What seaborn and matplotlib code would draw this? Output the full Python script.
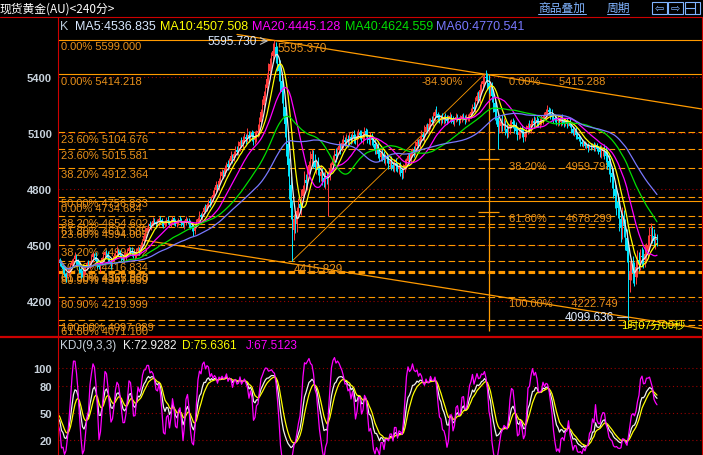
import numpy as np
import pandas as pd
import matplotlib
matplotlib.use("Agg")
import matplotlib.pyplot as plt
from matplotlib.lines import Line2D
from matplotlib.patches import Rectangle
import seaborn as sns

# ============================================================
# DATA - 240 minute gold bars
# ============================================================
CLOSE = [
    # sideways start
    4420, 4405, 4390, 4370, 4345, 4330, 4350, 4372, 4395, 4410,
    4425, 4440, 4418, 4395, 4370, 4352, 4340, 4360, 4385, 4402,
    4390, 4410, 4435, 4450, 4438, 4415, 4395, 4380, 4405, 4428,
    4446, 4462, 4450, 4430, 4412, 4400, 4418, 4440, 4455, 4470,
    4460, 4445, 4430, 4420, 4438, 4455, 4470, 4482, 4470, 4455,
    4440, 4452, 4468, 4480, 4470,
    # breakout + plateau
    4495, 4520, 4550, 4575, 4590, 4610, 4600,
    4615, 4630, 4622, 4610, 4625, 4640, 4632, 4618, 4605, 4620,
    4635, 4628, 4615, 4630, 4642, 4625, 4612, 4620, 4636, 4630,
    4618, 4605, 4622, 4638, 4630, 4615, 4600, 4590,
    4575, 4600, 4625,
    4640, 4660, 4650, 4675, 4700, 4690, 4715, 4735, 4725, 4750,
    4770, 4795, 4820, 4810, 4845, 4870, 4890,
    4880, 4910, 4935, 4920, 4950, 4975, 4965, 4990, 5010, 5000,
    5030, 5050, 5040, 5065, 5080,
    5070, 5090, 5075, 5100, 5085, 5060, 5080, 5100, 5110,
    # blow-off top and crash
    5160, 5210, 5250, 5300, 5340, 5390, 5430, 5470, 5510, 5540, 5560,
    5520, 5470, 5430, 5380, 5320,
    5240, 5150, 5040, 4930, 4820, 4700, 4580,
    4640, 4610, 4680, 4720, 4700, 4760, 4800, 4850, 4830, 4890,
    4930, 4960, 4985,
    4950, 4920, 4940, 4900, 4870, 4890, 4860, 4840, 4870, 4855, 4880, 4910,
    4930, 4960, 4990, 4975, 5010, 5030, 5020, 5045, 5060, 5050,
    5070, 5055, 5080, 5065, 5090, 5075, 5060, 5085, 5100, 5090,
    5070, 5085, 5110, 5095, 5075, 5060, 5080, 5065,
    5040, 5010, 5025, 4990, 4970, 4995, 4980, 4955, 4975, 4960,
    4935, 4950, 4930, 4915, 4940, 4925, 4905, 4920, 4900, 4885, 4910, 4930,
    4950, 4975, 4960, 4990, 5010, 5000, 5030, 5050, 5040, 5070,
    5090, 5080, 5110, 5130, 5120, 5150, 5170, 5160, 5190, 5215, 5200, 5180, 5170,
    5180, 5170, 5185, 5175, 5165, 5180, 5190, 5175, 5160, 5170,
    5185, 5178, 5168, 5175, 5190, 5182, 5170, 5178, 5188, 5195,
    # second top
    5215, 5240, 5230, 5270, 5300, 5290, 5330, 5360, 5380, 5400, 5395,
    5370, 5340, 5350, 5300, 5260, 5210, 5180, 5130, 5140,
    5160, 5140, 5150, 5120, 5100, 5125, 5145, 5160, 5150, 5130,
    5110, 5090, 5105, 5125, 5100, 5080, 5095, 5120, 5140, 5130,
    5150, 5165, 5155, 5170, 5160, 5150, 5165, 5175, 5185, 5190,
    5210, 5225, 5215, 5200, 5190, 5180, 5175,
    5165, 5170, 5160, 5175, 5165, 5155, 5160, 5150,
    5160, 5140, 5120, 5100, 5110, 5090, 5080, 5070,
    5050, 5040, 5045, 5030, 5035, 5020, 5030, 5025, 5035, 5020, 5035, 5015,
    5010, 5000, 5005, 5005,
    # final crash and rebound
    5000, 4975, 4950, 4920, 4885, 4862, 4800, 4760, 4730, 4700,
    4640, 4590, 4640, 4600, 4540, 4470,
    4310, 4360, 4395, 4350, 4330, 4380, 4420, 4405, 4440, 4435,
    4420, 4450, 4470, 4501, 4550,
    4555, 4548, 4522, 4530, 4529,
]
OPEN_FIRST = 4430

UP_WICK = [
    12, 8, 15, 6, 20, 10, 5, 18, 9, 14, 7, 22, 11, 6, 16, 9, 13, 25, 8, 10,
    15, 6, 19, 10, 8, 24, 12, 7, 14, 9, 18, 5, 11, 20, 8, 13, 6, 17, 10, 22,
    9, 14, 7, 12, 26, 8, 15, 10, 6, 19, 11, 8, 16, 13, 7, 21, 9, 12, 18, 6,
    10, 17, 8, 20, 12, 6, 14, 9, 18, 11, 7, 15, 13, 22, 8, 10, 16, 6, 12, 14,
    9, 18, 14, 7, 11, 16, 8, 13, 20, 10, 6, 16, 12, 9, 20, 14, 7, 11, 17, 8,
    13, 19, 10, 26, 15, 24, 9, 12, 28, 17, 14, 21, 11, 18, 16, 30, 10, 13, 19, 22,
    25, 11, 27, 19, 18, 13, 35, 20, 12, 16, 25, 30, 14, 40, 28, 21, 32, 25, 22, 30,
    45, 30, 25, 40, 35, 28, 45, 32, 60, 48, 55, 40, 62, 48, 35, 50, 40, 28, 36, 22,
    30, 25, 38, 22, 45, 28, 35, 20, 42, 30, 26, 38, 22, 34, 28, 40, 24, 30, 36, 20,
    18, 28, 15, 24, 20, 32, 14, 26, 18, 22, 30, 16, 24, 20, 28, 15, 22, 26, 18, 24,
    20, 14, 26, 18, 22, 16, 28, 12, 24, 20, 18, 26, 14, 22, 30, 16, 20, 24, 12, 18,
    22, 16, 28, 14, 20, 26, 12, 18, 24, 16, 22, 30, 14, 20, 18, 26, 12, 22, 28, 16,
    20, 14, 26, 18, 35, 16, 22, 28, 12, 20, 24, 16, 30, 14, 22, 18, 26, 12, 20, 24,
    14, 20, 10, 18, 12, 22, 16, 10, 20, 14, 18, 12, 24, 16, 10, 20, 14, 26, 22, 18,
    24, 30, 20, 28, 18, 35, 26, 40, 30, 22, 38, 28, 45, 25, 32, 20, 36, 28, 22, 30,
    18, 26, 14, 22, 20, 28, 16, 24, 12, 20, 26, 18, 22, 14, 28, 20, 16, 24, 18, 22,
    20, 16, 24, 12, 22, 18, 26, 14, 20, 28, 16, 22, 18, 24, 12, 20, 26, 16, 22, 18,
    12, 18, 10, 16, 14, 20, 8, 15, 12, 18, 10, 14, 16, 9, 13, 18, 11, 15, 10, 14,
    18, 24, 30, 22, 35, 28, 40, 30, 45, 38, 50, 42, 60, 48, 55, 45, 62, 50, 40, 48,
    42, 55, 38, 48, 60, 40, 52, 45, 38, 50, 44, 58, 40, 52, 46, 62, 48, 40, 35, 30,
]
DN_WICK = [
    10, 18, 7, 22, 12, 28, 9, 14, 20, 8, 16, 11, 25, 9, 18, 30, 12, 8, 15, 20,
    9, 16, 12, 24, 7, 14, 20, 10, 26, 13, 8, 18, 15, 22, 10, 28, 12, 17, 9, 14,
    20, 11, 16, 8, 14, 22, 10, 18, 25, 12, 9, 15, 20, 11, 24, 13, 8, 19, 14, 10,
    16, 9, 20, 12, 8, 18, 14, 22, 10, 16, 12, 8, 18, 14, 10, 20, 12, 16, 9, 14,
    12, 8, 16, 10, 20, 14, 9, 18, 12, 16, 45, 14, 10, 18, 12, 8, 16, 12, 20, 10,
    14, 20, 12, 18, 10, 16, 22, 14, 12, 18, 15, 10, 20, 16, 12, 18, 24, 14, 20, 16,
    20, 26, 15, 22, 18, 30, 16, 24, 20, 28, 22, 18, 26, 20, 24, 30, 22, 18, 26, 35,
    30, 42, 25, 35, 28, 45, 38, 50, 55, 60, 48, 70, 65, 58, 75, 60, 80, 55, 48, 40,
    35, 28, 40, 30, 45, 25, 38, 32, 42, 28, 36, 30, 40, 26, 34, 28, 38, 30, 42, 26,
    22, 30, 18, 26, 20, 28, 16, 24, 30, 18, 26, 20, 22, 28, 16, 24, 20, 26, 18, 30,
    18, 24, 16, 28, 20, 14, 26, 18, 22, 30, 16, 24, 20, 26, 18, 22, 28, 16, 24, 20,
    26, 20, 30, 18, 24, 28, 16, 22, 30, 20, 26, 18, 24, 22, 28, 16, 20, 26, 18, 24,
    18, 24, 14, 20, 26, 16, 22, 18, 28, 14, 20, 24, 16, 22, 18, 26, 14, 20, 24, 16,
    12, 18, 22, 14, 20, 10, 16, 24, 12, 18, 14, 20, 10, 16, 22, 12, 18, 14, 20, 16,
    22, 28, 18, 30, 24, 20, 35, 28, 40, 32, 45, 38, 30, 42, 28, 36, 30, 24, 32, 26,
    20, 28, 16, 24, 30, 18, 26, 22, 32, 20, 28, 24, 18, 26, 22, 30, 20, 24, 18, 26,
    18, 24, 20, 28, 16, 22, 26, 18, 24, 20, 28, 16, 22, 26, 18, 24, 20, 22, 18, 24,
    14, 10, 18, 12, 16, 20, 10, 14, 18, 12, 16, 10, 14, 20, 12, 16, 10, 18, 14, 12,
    20, 28, 35, 30, 40, 32, 45, 38, 50, 55, 48, 60, 70, 58, 65, 72, 60, 55, 68, 62,
    50, 62, 45, 55, 48, 40, 52, 44, 38, 50, 42, 36, 48, 40, 34, 46, 38, 32, 42, 36,
]
# bars whose extreme is labelled / clearly visible
PEAK_HIGHS = {144: 5595.730, 284: 5415.288}
DEEP_LOWS = {90: 4550, 156: 4415.829, 180: 4655, 229: 4855, 293: 5015, 380: 4099.636}

MA_PERIODS = [5, 10, 20, 40, 60]
MA_COLORS = ["#e6e6e6", "#ffff00", "#ff00ff", "#00e000", "#7878ff"]
MA_LAST = ["4536.835", "4507.508", "4445.128", "4624.559", "4770.541"]
KDJ_LAST = ["72.9282", "75.6361", "67.5123"]

# left fibonacci set (drawn full width)
FIB_PCT = ["0.00%", "0.00%", "23.60%", "23.60%", "38.20%", "50.00%", "0.00%",
           "38.20%", "61.80%", "23.60%", "38.20%", "50.00%", "61.80%", "61.80%",
           "80.90%", "80.90%", "100.00%", "61.80%"]
FIB_PRICE = [5599.000, 5414.218, 5104.676, 5015.581, 4912.364, 4756.833, 4734.684,
             4654.602, 4611.589, 4594.005, 4499.092, 4416.834, 4362.033, 4355.850,
             4347.659, 4219.999, 4097.089, 4071.100]
FIB_SOLID = [True, True, False, False, False, False, True,
             False, False, False, False, False, False, False,
             False, False, False, False]

# right fibonacci set (retracement 5415.288 -> 4222.749)
FIBR_PCT = ["0.00%", "38.20%", "61.80%", "100.00%"]
FIBR_PRICE = [5415.288, 4959.798, 4678.299, 4222.749]

# drawing-tool lines, (bar index, price)
TREND_HIGH_X = [144, 284]
TREND_HIGH_Y = [5595.730, 5415.288]
TREND_LOW_X = [56, 430]
TREND_LOW_Y = [4527, 4050]
FAN_X = [156, 284]
FAN_Y = [4415.829, 5415.288]
VLINE_X = 287
VLINE_Y = [4040, 5415.288]

PRICE_TICKS = [4200, 4500, 4800, 5100, 5400]
KDJ_TICKS = [20, 50, 80, 100]

# ============================================================
# STYLE
# ============================================================
sns.set_theme(style="dark", rc={"axes.facecolor": "black",
                                "figure.facecolor": "black",
                                "savefig.facecolor": "black"})
plt.rcParams["font.family"] = ["Liberation Sans", "DejaVu Sans", "Noto Sans CJK SC"]
CJK = ["Noto Sans CJK SC", "DejaVu Sans"]

ORANGE = "#ff9a00"
ORANGE_TXT = "#e8901a"
RED = "#cc0000"
GRID_RED = "#9a0000"
TICK_TXT = "#c8d2dc"
UP_COL = "#ff3b3b"
DN_COL = "#00e6ff"

W, H = 703, 456

# ============================================================
# DERIVED SERIES
# ============================================================
close = np.array(CLOSE, float)
n = len(close)
idx = np.arange(n)
open_ = np.r_[OPEN_FIRST, close[:-1]]
high = np.maximum(open_, close) + np.array(UP_WICK[:n], float)
low = np.minimum(open_, close) - np.array(DN_WICK[:n], float)
for k, v in PEAK_HIGHS.items():
    high[k] = v
for k, v in DEEP_LOWS.items():
    low[k] = v

s_close = pd.Series(close)
mas = [s_close.rolling(p, min_periods=1).mean() for p in MA_PERIODS]

llv = pd.Series(low).rolling(9, min_periods=1).min()
hhv = pd.Series(high).rolling(9, min_periods=1).max()
rsv = ((s_close - llv) / (hhv - llv).replace(0, np.nan) * 100).fillna(50).values
K = np.zeros(n)
D = np.zeros(n)
k_prev, d_prev = 50.0, 50.0
for t in range(n):
    k_prev = (2 * k_prev + rsv[t]) / 3
    d_prev = (2 * d_prev + k_prev) / 3
    K[t], D[t] = k_prev, d_prev
J = 3 * K - 2 * D

# ============================================================
# FIGURE
# ============================================================
fig = plt.figure(figsize=(W / 100, H / 100), dpi=100)
ax = fig.add_axes([58 / W, 119 / H, 644 / W, 319 / H])
axk = fig.add_axes([58 / W, 0, 644 / W, 118 / H])

XLIM = (-0.33, 429)
for a in (ax, axk):
    a.set_facecolor("black")
    a.set_xlim(*XLIM)
    a.set_xticks([])
    for sp in a.spines.values():
        sp.set_visible(False)
    a.grid(False)

ax.set_ylim(4012.5, 5721.4)
axk.set_ylim(3.33, 134.4)

# grid (dotted red)
for p in PRICE_TICKS:
    ax.axhline(p, color=GRID_RED, lw=0.8, ls=(0, (1, 2.5)), zorder=0.5)
for p in KDJ_TICKS:
    axk.axhline(p, color=GRID_RED, lw=0.8, ls=(0, (1, 2.5)), zorder=0.5)

# fibonacci levels (left)
for pct, price, solid in zip(FIB_PCT, FIB_PRICE, FIB_SOLID):
    ax.axhline(price, color=ORANGE, lw=0.8,
               ls="-" if solid else (0, (6, 3)), zorder=1)
    ax.annotate(f"{pct} {price:.3f}", xy=(0, price),
                xycoords=("axes fraction", "data"), xytext=(2.2, -1),
                textcoords="offset points", ha="left", va="top",
                fontsize=8, color=ORANGE_TXT, zorder=1.5)

# fibonacci (right) labels and short marks
for pct, price in zip(FIBR_PCT, FIBR_PRICE):
    ax.annotate(f"{pct}      {price:.3f}", xy=(300.3, price), xytext=(0, -1),
                textcoords="offset points", ha="left", va="top",
                fontsize=8, color=ORANGE_TXT, zorder=1.5)
ax.annotate("-84.90%", xy=(242.3, FIBR_PRICE[0]), xytext=(0, -1),
            textcoords="offset points", ha="left", va="top",
            fontsize=8, color=ORANGE_TXT, zorder=1.5)
ax.hlines(FIBR_PRICE[1:3], 280, 294, colors=ORANGE, lw=0.9, zorder=1)

# trend lines
slope = (TREND_HIGH_Y[1] - TREND_HIGH_Y[0]) / (TREND_HIGH_X[1] - TREND_HIGH_X[0])
tx = np.array([119, 430])
ax.plot(tx, TREND_HIGH_Y[0] + slope * (tx - TREND_HIGH_X[0]), color=ORANGE, lw=0.9, zorder=1)
ax.plot(TREND_LOW_X, TREND_LOW_Y, color=ORANGE, lw=0.9, zorder=1)
ax.plot(FAN_X, FAN_Y, color=ORANGE, lw=0.6, zorder=1)
ax.vlines(VLINE_X, VLINE_Y[0], VLINE_Y[1], colors=ORANGE, lw=0.9, zorder=1)

# candles
cols = np.where(close >= open_, UP_COL, DN_COL)
ax.vlines(idx, low, high, colors=cols, lw=0.7, zorder=2)
body_lo = np.minimum(open_, close)
body_h = np.maximum(np.abs(close - open_), 3)
ax.bar(idx, body_h, bottom=body_lo, width=0.8, color=cols, linewidth=0, zorder=2)

# moving averages
for ma, c in zip(mas, MA_COLORS):
    sns.lineplot(x=idx, y=ma.values, ax=ax, color=c, linewidth=0.9, zorder=3)

# KDJ
for series, c in zip([K, D, J], ["#f0f0f0", "#ffff00", "#ff00ff"]):
    sns.lineplot(x=idx, y=series, ax=axk, color=c, linewidth=0.9, zorder=3)

# ticks
ax.set_yticks(PRICE_TICKS)
axk.set_yticks(KDJ_TICKS)
for a in (ax, axk):
    a.set_ylabel("")
    a.tick_params(axis="y", length=0, pad=4.3, colors=TICK_TXT)
    for lab in a.get_yticklabels():
        lab.set_fontfamily("Liberation Sans")
        lab.set_fontweight("bold")
        lab.set_fontsize(8)

# ============================================================
# FRAME + TEXT (pixel positions)
# ============================================================
def fx(x):
    return x / W


def fy(y):
    return 1 - y / H


def fline(x0, y0, x1, y1, color=RED, lw=0.8):
    fig.add_artist(Line2D([fx(x0), fx(x1)], [fy(y0), fy(y1)],
                          transform=fig.transFigure, color=color, lw=lw))


fline(0, 18, W, 18)
fline(0, 337.5, W, 337.5, lw=1.6)
fline(58, 18, 58, H)
fline(702, 18, 702, H)

fig.text(fx(0), fy(9), "现货黄金(AU)<240分>", family=CJK, fontsize=8.5,
         color="white", va="center", ha="left")
fig.text(fx(538), fy(8), "商品叠加", family=CJK, fontsize=8.5,
         color="#80b4ff", va="center", ha="left")
fline(538, 15, 586, 15, color="#80b4ff", lw=0.7)
fig.text(fx(607), fy(8), "周期", family=CJK, fontsize=8.5,
         color="#80b4ff", va="center", ha="left")
fline(607, 15, 629, 15, color="#80b4ff", lw=0.7)
for x0, glyph in zip([652, 668, 685], ["⇦", "⇨", ""]):
    fig.add_artist(Rectangle((fx(x0), fy(15)), 15 / W, 12 / H, transform=fig.transFigure,
                             fill=False, edgecolor="#80b4ff", lw=0.8))
    if glyph:
        fig.text(fx(x0 + 7.5), fy(9), glyph, family=["DejaVu Sans"], fontsize=8,
                 color="#80b4ff", ha="center", va="center")
fline(695, 3, 695, 15, color="#80b4ff", lw=0.8)
fline(685, 9, 695, 9, color="#80b4ff", lw=0.8)

# MA header
fig.text(fx(60), fy(27), "K", fontsize=9, color="#b8c8d8", va="center")
for x0, p, c, v in zip([75, 160, 252, 345, 436], MA_PERIODS,
                       ["#d8e8ff"] + MA_COLORS[1:], MA_LAST):
    fig.text(fx(x0), fy(27), f"MA{p}:{v}", fontsize=9, color=c, va="center")

# KDJ header
fig.text(fx(60), fy(346), "KDJ(9,3,3)", fontsize=8.5, color="#c8d2dc", va="center")
for x0, name, c, v in zip([123, 182, 246], "KDJ", ["#f0f0f0", "#ffff00", "#ff00ff"], KDJ_LAST):
    fig.text(fx(x0), fy(346), f"{name}:{v}", fontsize=8.5, color=c, va="center")

# point labels
fig.text(fx(207), fy(42), "5595.730", fontsize=8.5, color="#d8e8ff", va="center")
ax.annotate("", xy=(271, H - 42), xytext=(259, H - 42), xycoords="figure pixels",
            textcoords="figure pixels",
            arrowprops=dict(arrowstyle="->", color="#c0c0c0", lw=0.8))
fig.text(fx(277), fy(49), "5595.370", fontsize=8.5, color=ORANGE_TXT, va="center")
fig.text(fx(294), fy(270), "4415.829", fontsize=8.5, color=ORANGE_TXT, va="center")
fig.text(fx(565), fy(318), "4099.636", fontsize=8.5, color="#e0ecff", va="center")
fline(617, 318, 628, 318, color="#c0c0c0", lw=0.8)
fig.text(fx(621), fy(326), "1时07分00秒", family=["Liberation Sans"] + CJK, fontsize=8,
         color="#ffff00", va="center")

fig.savefig("out.png", dpi=100, facecolor="black")
